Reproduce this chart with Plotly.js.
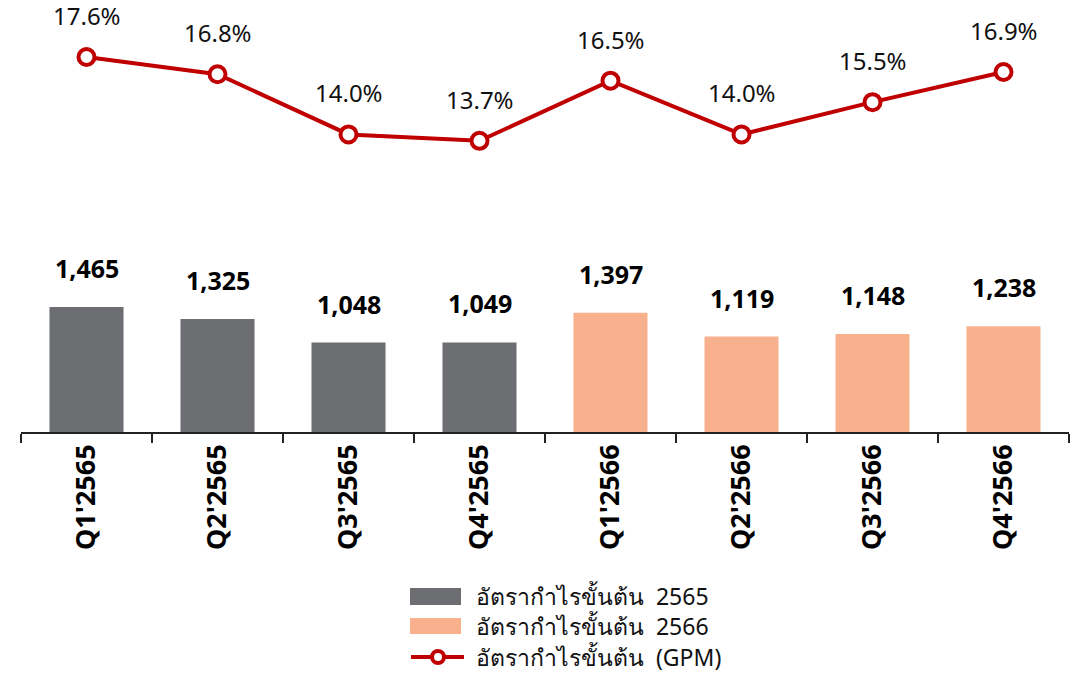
<!DOCTYPE html>
<html>
<head>
<meta charset="utf-8">
<script src="https://cdn.plot.ly/plotly-3.0.1.min.js"></script>
<style>html,body{margin:0;padding:0;background:#fff;}#chart{width:1079px;height:674px;}</style>
</head>
<body>
<div id="chart"></div>
<script>
const categories = ["Q1'2565","Q2'2565","Q3'2565","Q4'2565","Q1'2566","Q2'2566","Q3'2566","Q4'2566"];
const cats2565 = categories.slice(0,4);
const cats2566 = categories.slice(4);
const gp2565 = [1465, 1325, 1048, 1049];
const gp2566 = [1397, 1119, 1148, 1238];
const gpm = [17.6, 16.8, 14.0, 13.7, 16.5, 14.0, 15.5, 16.9];
const seriesNames = ["อัตรากำไรขั้นต้น 2565", "อัตรากำไรขั้นต้น 2566", "อัตรากำไรขั้นต้น (GPM)"];

const GRAY = '#6D6E71', PEACH = '#F8B18C', RED = '#C00000';
const FONT = 'Noto Sans, sans-serif';

const W = 1079, H = 674;
const M = {l: 21, r: 10, t: 0, b: 242};
const PW = W - M.l - M.r, PH = H - M.t - M.b;
const px = x => (x - M.l) / PW;
const py = y => (H - M.b - y) / PH;

const traces = [
  {type:'bar', x: cats2565, y: gp2565, name: seriesNames[0], marker:{color: GRAY}, width: 0.565, hoverinfo:'skip'},
  {type:'bar', x: cats2566, y: gp2566, name: seriesNames[1], marker:{color: PEACH}, width: 0.565, hoverinfo:'skip'},
  {type:'scatter', mode:'lines+markers', x: categories, y: gpm, yaxis:'y2', name: seriesNames[2],
   line:{color: RED, width: 4}, marker:{size: 16, color:'#fff', line:{color: RED, width: 4}}, cliponaxis:false}
];

const fmt = v => v.toLocaleString('en-US');
const annotations = [];
cats2565.forEach((c,i)=>annotations.push({x:c, y:gp2565[i], xref:'x', yref:'y', text: fmt(gp2565[i]), showarrow:false, yanchor:'bottom', yshift: 20, font:{family: FONT, size: 25, color:'#000', weight: 700}}));
cats2566.forEach((c,i)=>annotations.push({x:c, y:gp2566[i], xref:'x', yref:'y', text: fmt(gp2566[i]), showarrow:false, yanchor:'bottom', yshift: 20, font:{family: FONT, size: 25, color:'#000', weight: 700}}));
categories.forEach((c,i)=>annotations.push({x:c, y:gpm[i], xref:'x', yref:'y2', text: gpm[i].toFixed(1)+'%', showarrow:false, yanchor:'bottom', yshift: 23, font:{family: FONT, size: 24, color:'#111'}}));

// custom legend
const legRows = [596, 626, 657];
const shapes = [
  {type:'rect', xref:'paper', yref:'paper', x0: px(410), x1: px(461), y0: py(588), y1: py(605), fillcolor: GRAY, line:{width:0}},
  {type:'rect', xref:'paper', yref:'paper', x0: px(410), x1: px(461), y0: py(618), y1: py(634), fillcolor: PEACH, line:{width:0}},
  {type:'line', xref:'paper', yref:'paper', x0: px(411), x1: px(464), y0: py(657), y1: py(657), line:{color: RED, width: 4}},
  {type:'circle', xref:'paper', yref:'paper', x0: px(432), x1: px(444), y0: py(651), y1: py(663), fillcolor:'#fff', line:{color: RED, width: 4}}
];
seriesNames.forEach((n,i)=>annotations.push({xref:'paper', yref:'paper', x: px(474), y: py(legRows[i]), xanchor:'left', yanchor:'middle', text: n.replace(' ', '\u00a0\u00a0'), showarrow:false, font:{family: FONT, size: 23, color:'#111'}}));

const layout = {
  width: W, height: H,
  margin: M,
  paper_bgcolor:'#fff', plot_bgcolor:'#fff',
  showlegend: false,
  barmode: 'overlay',
  font:{family: FONT},
  xaxis: {type:'category', categoryorder:'array', categoryarray: categories, range:[-0.5, 7.5],
    showline:true, linecolor:'#222', linewidth:1.5, ticks:'outside', tickson:'boundaries', ticklen:9, tickwidth:1.5, tickcolor:'#222',
    tickangle:-90, tickfont:{family: FONT, size: 27, color:'#000', weight: 700}, showgrid:false, zeroline:false, fixedrange:true},
  yaxis: {range:[0, 432*1465/125], visible:false, showgrid:false, zeroline:false},
  yaxis2: {range:[17.6 - 375/21.5, 17.6 - 375/21.5 + 432/21.5], overlaying:'y', visible:false, showgrid:false, zeroline:false},
  annotations, shapes
};

Plotly.newPlot('chart', traces, layout, {staticPlot:true, displayModeBar:false});
</script>
</body>
</html>
